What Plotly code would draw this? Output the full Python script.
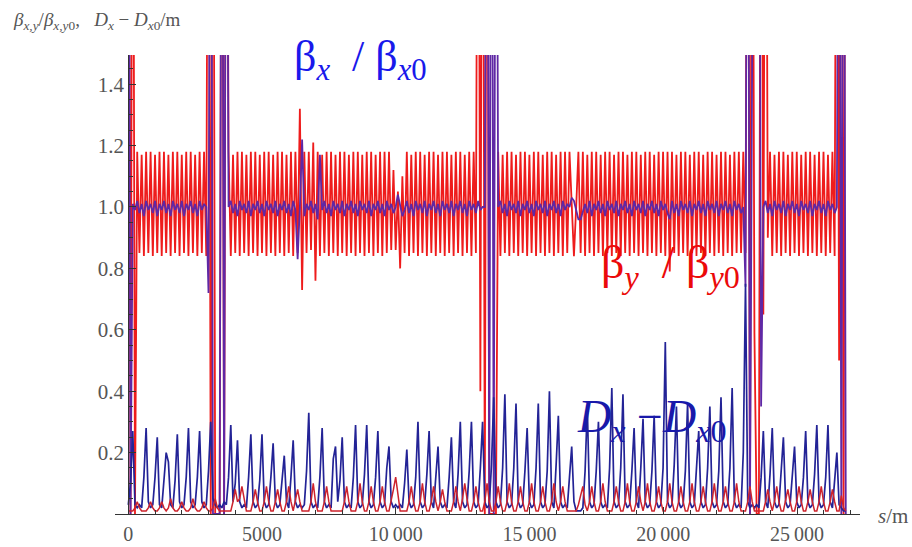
import numpy as np
import plotly.graph_objects as go

# sampling step along s (m); one sample every 83.3 m (40 samples per LHC octant)
STEP = 83.3

# beta_y / beta_y0 (red), in hundredths; 300 = far off scale (clipped)
beta_y = [
    300, 0, 300, 0, 118, 85, 117, 84, 118, 85,
    118, 84, 117, 85, 118, 84, 118, 85, 117, 84,
    118, 85, 118, 84, 117, 85, 118, 84, 118, 85,
    117, 84, 118, 85, 118, 84, 300, 0, 300, 0,
    0, 0, 300, 0, 300, 118, 84, 117, 85, 118,
    84, 118, 85, 117, 84, 118, 85, 118, 84, 117,
    85, 118, 84, 118, 85, 117, 84, 118, 85, 118,
    84, 117, 85, 118, 84, 118, 85, 132, 73, 118,
    85, 118, 86, 121, 76, 118, 84, 117, 85, 118,
    84, 118, 85, 117, 84, 118, 85, 118, 84, 117,
    85, 118, 84, 118, 85, 117, 84, 118, 85, 118,
    84, 117, 85, 118, 84, 118, 85, 118, 86, 112,
    86, 105, 80, 110, 85, 118, 84, 117, 85, 118,
    84, 118, 85, 117, 84, 118, 85, 118, 84, 117,
    85, 118, 84, 118, 85, 117, 84, 118, 85, 118,
    84, 117, 85, 118, 84, 118, 85, 300, 40, 300,
    0, 300, 0, 0, 0, 0, 118, 84, 117, 85,
    118, 84, 118, 85, 117, 84, 118, 85, 118, 84,
    117, 85, 118, 84, 118, 85, 117, 84, 118, 85,
    118, 84, 117, 85, 118, 84, 118, 85, 118, 100,
    84, 100, 118, 85, 118, 84, 117, 85, 118, 84,
    118, 85, 117, 84, 118, 85, 118, 84, 117, 85,
    118, 84, 118, 85, 117, 84, 118, 85, 118, 84,
    117, 85, 118, 84, 118, 85, 117, 84, 118, 85,
    118, 84, 118, 79, 118, 85, 117, 84, 118, 85,
    118, 84, 117, 85, 118, 84, 118, 85, 117, 84,
    118, 85, 118, 84, 117, 85, 118, 84, 118, 85,
    117, 84, 118, 85, 118, 85, 118, 85, 300, 0,
    300, 59, 0, 0, 300, 65, 300, 90, 118, 84,
    117, 85, 118, 84, 118, 85, 117, 84, 118, 85,
    118, 84, 117, 85, 118, 84, 118, 85, 117, 84,
    118, 85, 118, 84, 117, 85, 118, 84, 300, 50,
    300, 0, 300,
]

# beta_x / beta_x0 (blue), in hundredths
beta_x = [
    300, 0, 101, 99, 102, 98, 101, 97, 102, 99,
    101, 98, 102, 97, 101, 99, 102, 98, 101, 97,
    102, 99, 101, 98, 102, 97, 101, 99, 102, 98,
    101, 97, 102, 99, 101, 100, 72, 300, 0, 0,
    0, 0, 300, 0, 300, 100, 102, 98, 101, 97,
    102, 99, 101, 98, 102, 97, 101, 99, 102, 98,
    101, 97, 102, 99, 101, 98, 102, 97, 101, 99,
    102, 98, 101, 97, 102, 99, 83, 100, 122, 97,
    101, 99, 102, 98, 101, 96, 117, 99, 102, 98,
    101, 97, 102, 99, 101, 98, 102, 97, 101, 99,
    102, 98, 101, 97, 102, 99, 101, 98, 102, 97,
    101, 99, 102, 98, 101, 97, 102, 99, 101, 98,
    100, 104, 101, 97, 99, 102, 98, 101, 97, 102,
    99, 101, 98, 102, 97, 101, 99, 102, 98, 101,
    97, 102, 99, 101, 98, 102, 97, 101, 99, 102,
    98, 101, 97, 102, 99, 101, 98, 102, 99, 100,
    100, 300, 0, 300, 0, 300, 100, 102, 98, 101,
    97, 102, 99, 101, 98, 102, 97, 101, 99, 102,
    98, 101, 97, 102, 99, 101, 98, 102, 97, 101,
    99, 102, 98, 101, 97, 102, 99, 101, 100, 103,
    102, 99, 96, 96, 99, 101, 98, 102, 97, 101,
    99, 102, 98, 101, 97, 102, 99, 101, 98, 102,
    97, 101, 99, 102, 98, 101, 97, 102, 99, 101,
    98, 102, 97, 101, 99, 102, 98, 101, 97, 102,
    99, 101, 98, 96, 102, 98, 101, 97, 102, 99,
    101, 98, 102, 97, 101, 99, 102, 98, 101, 97,
    102, 99, 101, 98, 102, 97, 101, 99, 102, 98,
    101, 97, 102, 99, 101, 98, 100, 74, 300, 0,
    300, 300, 300, 300, 35, 100, 102, 98, 101, 97,
    102, 99, 101, 98, 102, 97, 101, 99, 102, 98,
    101, 97, 102, 99, 101, 98, 102, 97, 101, 99,
    102, 98, 101, 97, 102, 99, 101, 98, 100, 300,
    0, 300, 0,
]

# D_x - D_x0 (dark blue), in cm
dx_blue = [
    3, 10, 27, 3, 2, 3, 2, 12, 28, 4,
    2, 3, 12, 25, 3, 2, 11, 20, 17, 3,
    2, 11, 26, 4, 2, 3, 12, 28, 4, 2,
    3, 12, 27, 4, 2, 3, 14, 30, 5, 3,
    2, 3, 2, 4, 3, 12, 29, 4, 10, 24,
    4, 2, 3, 2, 12, 26, 4, 2, 3, 11,
    26, 4, 2, 3, 12, 23, 4, 2, 3, 10,
    19, 4, 2, 12, 24, 4, 2, 3, 2, 3,
    14, 33, 4, 2, 3, 2, 12, 28, 4, 2,
    3, 2, 18, 22, 4, 11, 25, 4, 2, 3,
    2, 12, 29, 4, 2, 3, 13, 29, 4, 2,
    3, 12, 27, 4, 2, 3, 15, 22, 4, 2,
    3, 2, 3, 2, 10, 21, 4, 2, 3, 12,
    30, 4, 2, 3, 13, 27, 4, 2, 14, 22,
    4, 2, 3, 2, 12, 25, 4, 2, 13, 30,
    4, 2, 3, 14, 30, 4, 2, 3, 15, 30,
    4, 2, 3, 16, 38, 4, 2, 3, 15, 39,
    4, 2, 3, 15, 36, 4, 2, 3, 14, 28,
    4, 2, 3, 15, 36, 4, 2, 3, 14, 40,
    4, 2, 16, 32, 4, 2, 3, 2, 12, 22,
    4, 1, 1, 1, 2, 14, 35, 4, 2, 3,
    14, 30, 4, 2, 3, 2, 15, 41, 4, 2,
    3, 15, 39, 4, 2, 3, 14, 28, 4, 2,
    15, 31, 4, 2, 3, 14, 32, 4, 2, 3,
    15, 56, 4, 2, 3, 16, 35, 4, 2, 3,
    14, 36, 4, 2, 3, 15, 27, 4, 2, 3,
    15, 35, 4, 2, 3, 14, 38, 4, 2, 3,
    15, 41, 4, 2, 3, 2, 20, 75, 4, 2,
    3, 2, 3, 2, 12, 27, 4, 2, 13, 28,
    4, 2, 3, 14, 25, 4, 2, 3, 13, 22,
    4, 2, 3, 12, 27, 4, 2, 3, 13, 29,
    4, 2, 3, 12, 29, 4, 2, 10, 20, 3,
    2, 1, 1,
]

# second dispersion curve (red, bottom), in cm
d_red = [
    1, 1, 1, 2, 4, 2, 1, 1, 1, 2,
    4, 2, 1, 1, 2, 4, 2, 1, 2, 5,
    2, 1, 1, 2, 4, 2, 1, 1, 2, 5,
    2, 1, 1, 2, 4, 2, 1, 1, 2, 5,
    2, 1, 1, 1, 1, 1, 1, 4, 8, 4,
    5, 9, 5, 1, 1, 1, 4, 8, 4, 1,
    1, 4, 9, 4, 1, 1, 4, 8, 4, 1,
    1, 4, 9, 4, 1, 4, 8, 4, 1, 1,
    1, 1, 4, 10, 4, 1, 1, 1, 4, 9,
    4, 1, 1, 1, 1, 1, 1, 4, 9, 4,
    1, 1, 1, 4, 10, 4, 1, 1, 4, 9,
    4, 1, 1, 4, 9, 4, 1, 1, 4, 8,
    12, 6, 1, 1, 1, 1, 4, 9, 4, 1,
    1, 4, 10, 4, 1, 1, 4, 9, 4, 1,
    4, 8, 4, 1, 1, 1, 4, 9, 4, 1,
    5, 10, 5, 1, 1, 4, 9, 4, 1, 1,
    4, 10, 4, 1, 1, 4, 9, 4, 1, 1,
    4, 10, 4, 1, 1, 4, 9, 4, 1, 1,
    4, 10, 4, 1, 1, 4, 9, 4, 1, 1,
    4, 10, 4, 1, 4, 9, 4, 1, 1, 1,
    1, 1, 3, 6, 9, 3, 1, 4, 9, 4,
    1, 1, 4, 10, 4, 1, 1, 1, 4, 9,
    4, 1, 1, 4, 10, 4, 1, 1, 4, 9,
    4, 1, 4, 10, 4, 1, 1, 4, 9, 4,
    1, 1, 4, 10, 4, 1, 1, 4, 9, 4,
    1, 1, 4, 10, 4, 1, 1, 4, 9, 4,
    1, 1, 4, 10, 4, 1, 1, 4, 9, 4,
    1, 1, 4, 10, 4, 1, 1, 1, 4, 9,
    4, 1, 1, 1, 1, 1, 4, 8, 4, 1,
    4, 9, 4, 1, 1, 4, 8, 4, 1, 1,
    4, 9, 4, 1, 1, 4, 8, 4, 1, 1,
    4, 9, 4, 1, 1, 4, 8, 4, 1, 1,
    6, 2, 1,
]

x_tick_vals = [0, 5000, 10000, 15000, 20000, 25000]
x_tick_text = ["0", "5000", "10\u2009000", "15\u2009000", "20\u2009000", "25\u2009000"]
y_tick_vals = [0.2, 0.4, 0.6, 0.8, 1.0, 1.2, 1.4]
y_tick_text = ["0.2", "0.4", "0.6", "0.8", "1.0", "1.2", "1.4"]


def s_of(v):
    return np.arange(len(v)) * STEP


def val(v):
    return np.array(v, dtype=float) / 100.0


SERIF = "Liberation Serif, Times New Roman, DejaVu Serif, serif"
GRAY = "#555555"
NB = "\u00a0"

fig = go.Figure()
fig.add_trace(go.Scatter(x=s_of(beta_y), y=val(beta_y), mode="lines",
                         line=dict(color="rgb(238,28,28)", width=1.8), hoverinfo="skip"))
fig.add_trace(go.Scatter(x=s_of(beta_x), y=val(beta_x), mode="lines",
                         line=dict(color="rgb(95,40,165)", width=1.8), hoverinfo="skip"))
fig.add_trace(go.Scatter(x=s_of(dx_blue), y=val(dx_blue), mode="lines",
                         line=dict(color="rgb(35,35,150)", width=1.7), hoverinfo="skip"))
fig.add_trace(go.Scatter(x=s_of(d_red), y=val(d_red), mode="lines",
                         line=dict(color="rgb(205,35,45)", width=1.5), hoverinfo="skip"))

fig.update_layout(
    width=912, height=547,
    margin=dict(l=115, r=52, t=55, b=33, autoexpand=False),
    paper_bgcolor="white", plot_bgcolor="white",
    showlegend=False,
    xaxis=dict(
        range=[-497, 27354], showgrid=False, zeroline=False, automargin=False,
        showline=True, linecolor="#333333", linewidth=1.3,
        ticks="inside", ticklen=7, tickcolor="#333333",
        tickvals=x_tick_vals, ticktext=x_tick_text,
        tickfont=dict(family=SERIF, size=20, color=GRAY),
        ticklabelstandoff=2,
        minor=dict(dtick=1000, tick0=0, ticks="inside", ticklen=4, tickcolor="#333333"),
    ),
    yaxis=dict(
        range=[0, 1.495], showgrid=False, zeroline=False, automargin=False,
        anchor="free", position=13.3 / 745,
        showline=True, linecolor="#333333", linewidth=1.3,
        ticks="inside", ticklen=7, tickcolor="#333333",
        tickvals=y_tick_vals, ticktext=y_tick_text,
        tickfont=dict(family=SERIF, size=21, color=GRAY),
        minor=dict(dtick=0.05, tick0=0, ticks="inside", ticklen=4, tickcolor="#333333"),
    ),
)

annos = [
    dict(text="<i>β</i><sub><i>x,y</i></sub>/<i>β</i><sub><i>x,y</i>0</sub>," + NB * 3
         + "<i>D</i><sub><i>x</i></sub>" + NB + "−" + NB + "<i>D</i><sub><i>x</i>0</sub>/m",
         x=-0.14, y=1.074, xanchor="left", yanchor="middle",
         font=dict(family=SERIF, size=19, color=GRAY)),
    dict(text="<i>s</i>/m", x=1.044, y=-0.005, xanchor="center", yanchor="middle",
         font=dict(family=SERIF, size=21, color=GRAY)),
    dict(text="β<sub><i>x</i></sub>" + NB * 2 + "/" + NB + "β<sub><i>x</i>0</sub>", x=0.329, y=0.99,
         xanchor="center", yanchor="middle",
         font=dict(family=SERIF, size=44, color="rgb(25,25,235)")),
    dict(text="β<sub><i>y</i></sub>" + NB * 2 + "/" + NB + "β<sub><i>y</i>0</sub>", x=0.745, y=0.54,
         xanchor="center", yanchor="middle",
         font=dict(family=SERIF, size=46, color="rgb(235,10,10)")),
    dict(text="<i>D</i><sub><i>x</i></sub>" + NB + "−<i>D</i><sub><i>x</i>0</sub>", x=0.721, y=0.205,
         xanchor="center", yanchor="middle",
         font=dict(family=SERIF, size=46, color="rgb(25,25,170)")),
]
for a in annos:
    fig.add_annotation(xref="paper", yref="paper", showarrow=False, **a)

fig.write_html("out.html")
